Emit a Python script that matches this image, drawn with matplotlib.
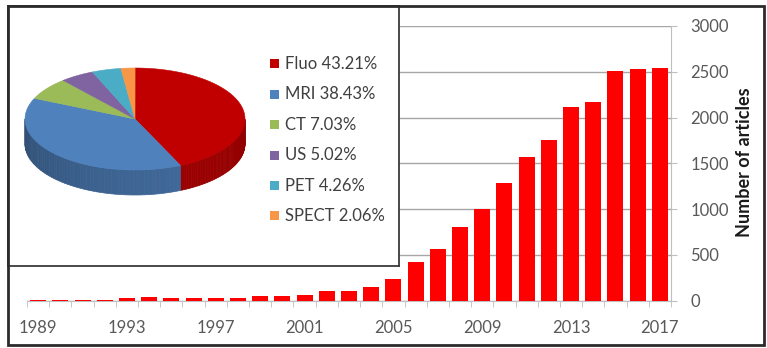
import numpy as np
import matplotlib
matplotlib.use("Agg")
import matplotlib.pyplot as plt
from matplotlib.patches import Polygon, Rectangle
from matplotlib import colors as mcolors

# ---------------- data ----------------
years = list(range(1989, 2018))
articles = [1, 2, 10, 8, 22, 35, 27, 22, 22, 32, 50, 52, 65, 105, 105, 150,
            230, 420, 566, 803, 997, 1280, 1570, 1752, 2117, 2172, 2505, 2535, 2545]
year_labels = ["1989", "1993", "1997", "2001", "2005", "2009", "2013", "2017"]
y_ticks = [0, 500, 1000, 1500, 2000, 2500, 3000]

modalities = ["Fluo", "MRI", "CT", "US", "PET", "SPECT"]
shares = [43.21, 38.43, 7.03, 5.02, 4.26, 2.06]
top_colors = ["#C00000", "#4F81BD", "#9BBB59", "#8064A2", "#4BACC6", "#F79646"]

# ---------------- layout ----------------
W, H = 767, 348
plt.rcParams['font.family'] = ['Lato', 'DejaVu Sans']
fig = plt.figure(figsize=(W / 100, H / 100), dpi=100)
fig.patch.set_facecolor("white")


def rect(x0, y0, x1, y1):
    return [x0 / W, 1 - y1 / H, (x1 - x0) / W, (y1 - y0) / H]


# ---------------- bar chart ----------------
ax = fig.add_axes(rect(27, 26, 671, 300.5))
x = np.arange(len(years))
ax.bar(x, articles, width=0.72, color="#FF0000", zorder=3)
ax.set_xlim(-0.5, len(years) - 0.5)
ax.set_ylim(0, 3000)
ax.set_yticks(y_ticks)
ax.yaxis.tick_right()
ax.yaxis.grid(True, color="#A6A6A6", lw=1.0, zorder=0)
ax.set_axisbelow(True)
for s in ["top", "left"]:
    ax.spines[s].set_visible(False)
ax.spines["right"].set_color("#BFBFBF")
ax.spines["bottom"].set_color("#BFBFBF")
ax.tick_params(axis="y", right=True, length=4, color="#BFBFBF", pad=10,
               labelsize=12, labelcolor="#595959")
lab_pos = [years.index(int(y)) for y in year_labels]
ax.set_xticks(lab_pos)
ax.set_xticklabels(year_labels)
ax.set_xticks(np.arange(-0.5, len(years), 1.0), minor=True)
ax.tick_params(axis="x", which="major", length=0, pad=14, labelsize=12,
               labelcolor="#595959")
ax.tick_params(axis="x", which="minor", length=4, color="#BFBFBF")
fig.text(745 / W, 1 - 162 / H, "Number of articles", rotation=90,
         ha="center", va="center", fontsize=13, fontweight="bold",
         color="#1a1a1a")

# ---------------- pie inset ----------------
iax = fig.add_axes(rect(8, 6, 399, 266))
iax.set_xlim(8, 399)
iax.set_ylim(266, 6)
iax.set_xticks([])
iax.set_yticks([])
for s in iax.spines.values():
    s.set_color("#3a3a3a")
    s.set_linewidth(1.3)
iax.set_facecolor("white")

cx, cy, a, b, depth = 135, 119, 110, 51, 25


def pt(theta_deg, dy=0.0):
    t = np.deg2rad(theta_deg)
    return cx + a * np.cos(t), cy - b * np.sin(t) + dy


def darker(c, f):
    r, g, bb = mcolors.to_rgb(c)
    return (r * f, g * f, bb * f)


# angles (start at top, clockwise)
bounds = [90.0]
for s in shares:
    bounds.append(bounds[-1] - 360.0 * s / 100.0)

# sides (front half only: angles between -180 and 0)
for i, c in enumerate(top_colors):
    t0, t1 = bounds[i], bounds[i + 1]
    lo, hi = max(t1, -180.0), min(t0, 0.0)
    if lo >= hi:
        continue
    ts = np.linspace(hi, lo, 60)
    for k in range(len(ts) - 1):
        ta, tb = ts[k], ts[k + 1]
        mid = 0.5 * (ta + tb)
        # light from the right-front
        shade = 0.55 + 0.25 * (np.cos(np.deg2rad(mid + 60)) + 1) / 2
        pts = [pt(ta), pt(tb), pt(tb, depth), pt(ta, depth)]
        iax.add_patch(Polygon(pts, closed=True, fc=darker(c, shade),
                              ec=darker(c, shade), lw=0.5))

# top faces
for i, c in enumerate(top_colors):
    t0, t1 = bounds[i], bounds[i + 1]
    ts = np.linspace(t0, t1, 80)
    pts = [(cx, cy)] + [pt(t) for t in ts]
    iax.add_patch(Polygon(pts, closed=True, fc=c, ec=c, lw=0.4))

# legend
for i, (m, s, c) in enumerate(zip(modalities, shares, top_colors)):
    yy = 64 + 30.4 * i
    iax.add_patch(Rectangle((270, yy - 4.5), 9, 9, fc=c, ec="none"))
    iax.text(285, yy, f"{m} {s:.2f}%", fontsize=12, color="#404040",
             ha="left", va="center")

# ---------------- outer frame ----------------
fig.patches.append(Rectangle((8 / W, 1 - 345 / H), (764 - 8) / W, (345 - 6) / H,
                             transform=fig.transFigure, fill=False,
                             ec="#2b2b2b", lw=2, zorder=10))

fig.savefig("out.png", dpi=100)
